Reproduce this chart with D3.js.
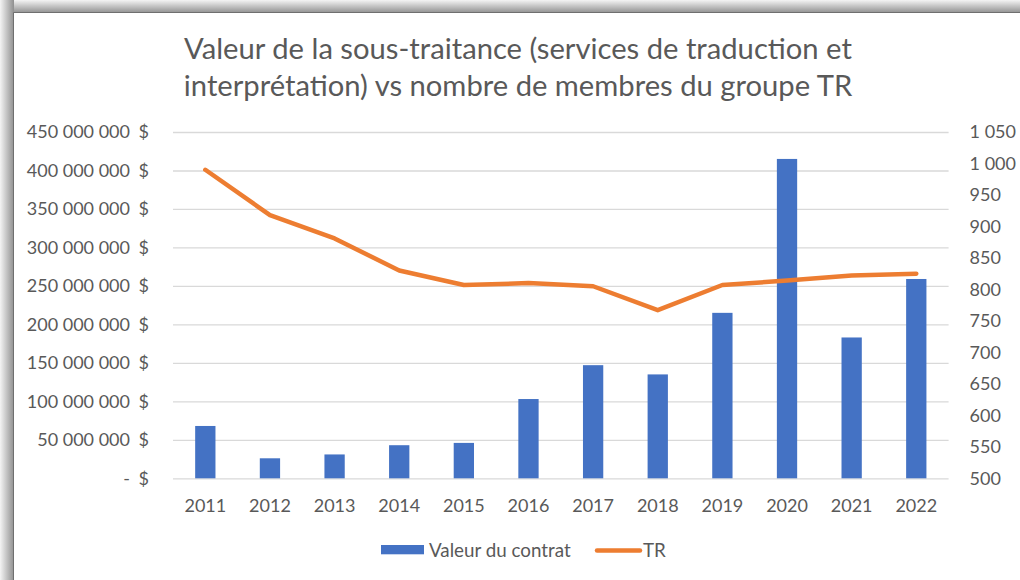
<!DOCTYPE html>
<html>
<head>
<meta charset="utf-8">
<script src="https://d3js.org/d3.v7.min.js"></script>
<style>
  html, body { margin:0; padding:0; background:#fff; }
  svg { display:block; }
  text { font-family: Lato, "Liberation Sans", sans-serif; fill:#595959; }
</style>
</head>
<body>
<svg id="chart" width="1020" height="580"></svg>
<script>
// data
var years = ['2011','2012','2013','2014','2015','2016','2017','2018','2019','2020','2021','2022'];
var contractValues = [68e6, 26e6, 31e6, 43e6, 46e6, 103e6, 147e6, 135e6, 215e6, 415e6, 183e6, 259e6];
var trMembers = [990, 918, 881, 830, 807, 810, 805, 767, 807, 814, 822, 825];
var leftTicks = [0, 50e6, 100e6, 150e6, 200e6, 250e6, 300e6, 350e6, 400e6, 450e6];
var rightTicks = [500, 550, 600, 650, 700, 750, 800, 850, 900, 950, 1000, 1050];
var titleLines = ['Valeur de la sous-traitance (services de traduction et',
                  'interprétation) vs nombre de membres du groupe TR'];
var seriesNames = ['Valeur du contrat', 'TR'];

var blue = '#4472C4', orange = '#ED7D31', grid = '#d9d9d9';
var pLeft = 173, pRight = 948.6, pTop = 132, pBottom = 478.3;

var svg = d3.select('#chart');

// frame with soft shadow on top and left
var defs = svg.append('defs');
var gT = defs.append('linearGradient').attr('id','shT').attr('x1',0).attr('y1',0).attr('x2',0).attr('y2',1);
gT.append('stop').attr('offset','0%').attr('stop-color','#f4f4f4');
gT.append('stop').attr('offset','100%').attr('stop-color','#8f8f8f');
var gL = defs.append('linearGradient').attr('id','shL').attr('x1',0).attr('y1',0).attr('x2',1).attr('y2',0);
gL.append('stop').attr('offset','0%').attr('stop-color','#f4f4f4');
gL.append('stop').attr('offset','100%').attr('stop-color','#8f8f8f');
svg.append('rect').attr('width',1020).attr('height',580).attr('fill','#fff');
svg.append('rect').attr('x',0).attr('y',0).attr('width',1020).attr('height',13).attr('fill','url(#shT)');
svg.append('rect').attr('x',0).attr('y',0).attr('width',14).attr('height',580).attr('fill','url(#shL)');
svg.append('path').attr('d','M13.5,580V12.5H1020').attr('fill','none').attr('stroke','#6f6f6f').attr('stroke-width',1);

// scales
var x = d3.scaleBand().domain(years).range([pLeft, pRight]).padding(0);
var yL = d3.scaleLinear().domain([0, 450e6]).range([pBottom, pTop]);
var yR = d3.scaleLinear().domain([500, 1050]).range([pBottom, pTop]);
var barW = x.bandwidth() * 0.314;

var loc = d3.formatLocale({decimal:',', thousands:'\u00a0', grouping:[3], currency:['','\u00a0$']});
var fmt = loc.format(',.0f');

// gridlines
svg.append('g').attr('transform','translate(' + pLeft + ',0)')
   .call(d3.axisLeft(yL).tickValues(leftTicks).tickSize(-(pRight - pLeft)).tickFormat(''))
   .call(function(g){ g.select('.domain').remove();
                      g.selectAll('line').attr('stroke',grid).attr('stroke-width',1.3); });

// bars
svg.append('g').selectAll('rect').data(years).join('rect')
   .attr('x', function(d){ return x(d) + x.bandwidth()/2 - barW/2; })
   .attr('y', function(d,i){ return yL(contractValues[i]); })
   .attr('width', barW)
   .attr('height', function(d,i){ return yL(0) - yL(contractValues[i]); })
   .attr('fill', blue);

// line
var line = d3.line()
   .x(function(d,i){ return x(years[i]) + x.bandwidth()/2; })
   .y(function(d){ return yR(d); });
svg.append('path').datum(trMembers).attr('d', line)
   .attr('fill','none').attr('stroke',orange).attr('stroke-width',4.5)
   .attr('stroke-linecap','round').attr('stroke-linejoin','round');

// left axis: number then "$"
var ax = svg.append('g').attr('transform','translate(149,0)')
   .call(d3.axisLeft(yL).tickValues(leftTicks).tickSize(0).tickPadding(19)
           .tickFormat(function(d){ return d === 0 ? '-' : fmt(d); }));
ax.select('.domain').remove();
ax.selectAll('.tick text').attr('font-size',18).attr('font-family',null).attr('fill','#595959');
ax.selectAll('.tick').append('text').attr('x',0).attr('dy','0.32em')
  .attr('text-anchor','end').attr('font-size',18).attr('fill','#595959').text('$');

// right axis
var axR = svg.append('g').attr('transform','translate(' + pRight + ',0)')
   .call(d3.axisRight(yR).tickValues(rightTicks).tickSize(0).tickPadding(21).tickFormat(fmt));
axR.select('.domain').remove();
axR.selectAll('.tick text').attr('font-size',18).attr('font-family',null).attr('fill','#595959');

// bottom axis
var axB = svg.append('g').attr('transform','translate(0,' + pBottom + ')')
   .call(d3.axisBottom(x).tickSize(0).tickPadding(21));
axB.select('.domain').remove();
axB.selectAll('.tick text').attr('font-size',18).attr('font-family',null).attr('fill','#595959');

// title
svg.append('g').selectAll('text').data(titleLines).join('text')
   .attr('x', 518).attr('y', function(d,i){ return 59 + i*37; })
   .attr('text-anchor','middle').attr('font-size',29.2).text(function(d){ return d; });

// legend
var lg = svg.append('g');
lg.append('rect').attr('x',381).attr('y',545).attr('width',43).attr('height',9.3).attr('fill',blue);
lg.append('text').attr('x',429).attr('y',557).attr('font-size',18.8).text(seriesNames[0]);
lg.append('line').attr('x1',597).attr('x2',640).attr('y1',550.5).attr('y2',550.5)
  .attr('stroke',orange).attr('stroke-width',4.5).attr('stroke-linecap','round');
lg.append('text').attr('x',643).attr('y',557).attr('font-size',18.8).text(seriesNames[1]);
</script>
</body>
</html>
